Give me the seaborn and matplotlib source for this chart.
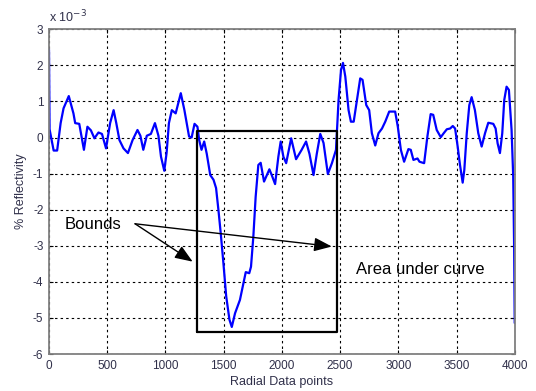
import numpy as np
import pandas as pd
import matplotlib
matplotlib.use("Agg")
import matplotlib.pyplot as plt
import seaborn as sns

# Data (x in radial data points, y in units of 1e-3 % reflectivity)
x_pts = [0, 5, 40, 70, 100, 125, 170, 210, 225, 260, 300, 330, 360, 390, 425, 455,
         490, 525, 555, 578, 605, 640, 678, 718, 760, 785, 810, 840, 875, 910, 940,
         962, 990, 1010, 1030, 1055, 1088, 1132, 1163, 1203, 1225, 1250, 1275, 1290,
         1310, 1333, 1355, 1385, 1413, 1435, 1455, 1475, 1498, 1522, 1550, 1570,
         1598, 1640, 1670, 1690, 1720, 1735, 1755, 1775, 1798, 1818, 1847, 1893,
         1913, 1942, 1970, 1990, 2013, 2037, 2080, 2122, 2170, 2208, 2237, 2272,
         2300, 2330, 2358, 2395, 2430, 2465, 2487, 2508, 2525, 2545, 2573, 2593,
         2617, 2645, 2673, 2693, 2725, 2750, 2773, 2802, 2830, 2860, 2888, 2922,
         2973, 2996, 3022, 3050, 3087, 3107, 3130, 3165, 3182, 3222, 3250, 3278,
         3300, 3330, 3365, 3390, 3417, 3445, 3468, 3488, 3510, 3530, 3553, 3567,
         3588, 3610, 3630, 3658, 3687, 3716, 3745, 3773, 3816, 3836, 3853, 3873,
         3893, 3910, 3930, 3950, 3973, 3987, 3995, 4000]
y_pts = [2.44, 0.23, -0.36, -0.36, 0.40, 0.81, 1.15, 0.67, 0.40, 0.38, -0.34, 0.30,
         0.20, -0.02, 0.14, 0.10, -0.30, 0.40, 0.76, 0.40, -0.07, -0.30, -0.43,
         -0.07, 0.21, 0.05, -0.34, 0.05, 0.10, 0.40, 0.05, -0.53, -0.92, -0.43,
         0.40, 0.76, 0.67, 1.23, 0.76, 0.03, 0.00, 0.38, 0.30, -0.07, -0.34, -0.11,
         -0.45, -1.04, -1.17, -1.40, -2.00, -2.65, -3.48, -4.40, -5.05, -5.25,
         -4.87, -4.50, -4.04, -3.73, -3.76, -3.58, -2.75, -1.64, -0.76, -0.70,
         -1.22, -0.88, -1.04, -1.29, -0.53, -0.11, -0.53, -0.71, -0.02, -0.60,
         -0.34, -0.11, -0.45, -1.04, -0.45, 0.10, -0.15, -1.01, -0.71, -0.34,
         1.04, 1.87, 2.07, 1.69, 0.76, 0.44, 0.44, 1.04, 1.64, 1.60, 0.90, 0.76,
         0.12, -0.22, 0.12, 0.25, 0.44, 0.72, 0.72, 0.30, -0.34, -0.67, -0.32,
         -0.34, -0.62, -0.58, -0.67, -0.71, 0.03, 0.65, 0.63, 0.21, 0.01, 0.12,
         0.23, 0.25, 0.32, 0.25, -0.25, -0.76, -1.25, -0.90, 0.12, 0.90, 1.12,
         0.76, 0.12, -0.25, 0.12, 0.41, 0.38, 0.25, -0.16, -0.43, 0.12, 1.04,
         1.41, 1.32, 0.21, -1.08, -3.07, -5.14]

x_ticks = [0, 500, 1000, 1500, 2000, 2500, 3000, 3500, 4000]
y_ticks = [-6, -5, -4, -3, -2, -1, 0, 1, 2, 3]

# Annotation geometry (data units)
box_x = [1270, 2475]
box_y = [-5.38, 0.18]

df = pd.DataFrame({"x": x_pts, "y": y_pts})

sns.set_theme(style="white")
plt.rcParams['font.family'] = ['Liberation Sans', 'DejaVu Sans']

txt = '#30304a'
fig = plt.figure(figsize=(5.36, 3.91), dpi=100)
ax = fig.add_axes([0.0914, 0.0946, 0.8689, 0.8304])

sns.lineplot(data=df, x="x", y="y", ax=ax, color=(0, 0, 1), linewidth=1.6,
             sort=False, estimator=None, solid_joinstyle='round', solid_capstyle='round')

ax.set_xlim(0, 4000)
ax.set_ylim(-6, 3)
ax.set_xticks(x_ticks)
ax.set_yticks(y_ticks)
ax.set_xticklabels([str(v) for v in x_ticks])
ax.set_yticklabels([str(v) for v in y_ticks])
ax.grid(True, color='black', linestyle=(0, (2.2, 2.8)), linewidth=0.8)
ax.tick_params(direction='in', length=3, width=0.8, color='black',
               top=True, right=True, bottom=True, left=True,
               labelsize=8.5, labelcolor=txt, pad=4)
for s in ax.spines.values():
    s.set_color('#808080')
    s.set_linewidth(1.3)

ax.set_xlabel("Radial Data points", fontsize=9, color=txt, labelpad=3)
ax.set_ylabel("% Reflectivity", fontsize=9, color=txt, labelpad=4)

# x 10^-3 multiplier
fig.text(0.0914, 0.935, r"x 10$^{-3}$", fontsize=9, color=txt, ha='left', va='bottom')

# Bounds rectangle
ax.plot([box_x[0], box_x[0], box_x[1], box_x[1], box_x[0]],
        [box_y[0], box_y[1], box_y[1], box_y[0], box_y[0]],
        color='black', linewidth=1.6, zorder=5)

ax.text(137, -2.41, "Bounds", fontsize=12, color='black', ha='left', va='center')
ax.text(2637, -3.67, "Area under curve", fontsize=12, color='black', ha='left', va='center')

arr = dict(arrowstyle='-|>,head_length=0.9,head_width=0.35', color='black', lw=1.0,
           shrinkA=0, shrinkB=0)
ax.annotate("", xy=(1234, -3.44), xytext=(739, -2.39), arrowprops=arr, zorder=6)
ax.annotate("", xy=(2429, -3.02), xytext=(739, -2.39), arrowprops=arr, zorder=6)

fig.savefig("out.png", dpi=100)
